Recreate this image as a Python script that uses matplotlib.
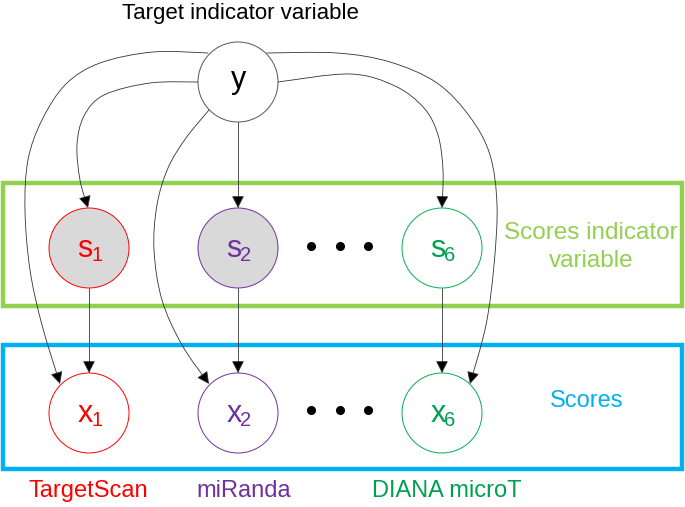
import matplotlib
matplotlib.use("Agg")
import numpy as np
import matplotlib.pyplot as plt
from matplotlib.patches import Ellipse, Rectangle, FancyArrowPatch
from matplotlib.path import Path

plt.rcParams['font.family'] = ['Liberation Sans', 'DejaVu Sans']

# ---- data ----
node_letters = ["y", "s", "s", "s", "x", "x", "x"]
node_subs = ["", "1", "2", "6", "1", "2", "6"]
node_x = [238, 89, 238, 442, 89, 238, 442]
node_y = [82, 248, 248, 248, 413, 413, 413]
node_edge = ["#555555", "#FF0000", "#7030A0", "#00B050", "#FF0000", "#7030A0", "#00B050"]
node_fill = ["white", "#D9D9D9", "#D9D9D9", "white", "white", "white", "white"]
node_text = ["black", "#FF0000", "#7030A0", "#00A050", "#FF0000", "#7030A0", "#00A050"]
node_w = 80
node_h = 80

source_names = ["TargetScan", "miRanda", "DIANA microT"]
source_colors = ["#FF0000", "#7030A0", "#00A050"]
source_x = [88, 244, 447]

# edges (start -> arrow tip)
edge_y_s2 = [(238, 122), (238, 208)]
edge_s1_x1 = [(89, 288), (89, 373)]
edge_s2_x2 = [(238, 288), (238, 373)]
edge_s6_x6 = [(442, 288), (442, 373)]
edge_y_s1 = [(198, 82), (150, 83), (104, 95), (84, 116), (77, 145), (80, 180), (88, 208)]
edge_y_s6 = [(278, 82), (350, 74), (395, 86), (424, 108), (438, 135), (443, 170), (442, 208)]
edge_y_x1 = [(208, 53), (153, 52), (100, 63), (66, 84), (42, 120), (28, 160),
             (25, 210), (30, 270), (42, 325), (60, 384)]
edge_y_x6 = [(267, 53), (337, 53), (390, 62), (437, 83), (470, 117), (490, 155),
             (497, 205), (494, 265), (486, 325), (470, 384)]
edge_y_x2 = [(209, 110), (186, 138), (168, 168), (157, 205), (154, 250),
             (162, 300), (182, 345), (209, 384)]

fig = plt.figure(figsize=(6.85, 5.07), dpi=100)
ax = fig.add_axes([0, 0, 1, 1])
ax.set_xlim(0, 685)
ax.set_ylim(507, 0)
ax.axis("off")

# boxes
ax.add_patch(Rectangle((3, 183), 679, 123, fill=False, edgecolor="#92D050", lw=3.2, zorder=1))
ax.add_patch(Rectangle((3, 345), 679, 124, fill=False, edgecolor="#00B0F0", lw=3.2, zorder=1))

# nodes
for nx, ny, ec, fc, tc, let, sub in zip(node_x, node_y, node_edge, node_fill, node_text,
                                        node_letters, node_subs):
    ax.add_patch(Ellipse((nx, ny), node_w, node_h, facecolor=fc, edgecolor=ec, lw=0.7, zorder=3))
    if sub:
        ax.text(nx - 4, ny + 9, let, color=tc, fontsize=22, ha="center", va="baseline", zorder=4)
        ax.text(nx + 8, ny + 13, sub, color=tc, fontsize=14.5, ha="center", va="baseline", zorder=4)
    else:
        ax.text(nx + 1, ny + 6, let, color=tc, fontsize=22, ha="center", va="baseline", zorder=4)

# dots
for row_y in [246, 410]:
    ax.plot([311, 340, 368], [row_y] * 3, "o", color="black", ms=5.5, zorder=4)


def smooth_path(pts):
    """Catmull-Rom through the given points, as cubic Bezier segments."""
    pts = np.asarray(pts, float)
    if len(pts) == 2:
        return Path(pts, [Path.MOVETO, Path.LINETO])
    verts = [pts[0]]
    codes = [Path.MOVETO]
    n = len(pts)
    for i in range(n - 1):
        p0 = pts[i - 1] if i > 0 else pts[i]
        p1 = pts[i]
        p2 = pts[i + 1]
        p3 = pts[i + 2] if i + 2 < n else pts[i + 1]
        c1 = p1 + (p2 - p0) / 6.0
        c2 = p2 - (p3 - p1) / 6.0
        verts += [c1, c2, p2]
        codes += [Path.CURVE4] * 3
    return Path(verts, codes)


for e in [edge_y_s2, edge_s1_x1, edge_s2_x2, edge_s6_x6, edge_y_s1, edge_y_s6,
          edge_y_x1, edge_y_x6, edge_y_x2]:
    a = FancyArrowPatch(path=smooth_path(e), arrowstyle="-|>,head_length=7.5,head_width=3.8",
                        color="#333333", lw=0.6, shrinkA=0, shrinkB=0, zorder=2)
    a.set_facecolor("black")
    ax.add_patch(a)

# texts
ax.text(240, 13, "Target indicator variable", fontsize=16, ha="center", va="center", color="black")
ax.text(591, 247, "Scores indicator\nvariable", fontsize=17.5, ha="center", va="center",
        color="#92D050", linespacing=1.3)
ax.text(587, 401, "Scores", fontsize=17, ha="center", va="center", color="#00B0F0")
for name, col, sx in zip(source_names, source_colors, source_x):
    ax.text(sx, 491, name, fontsize=17, ha="center", va="center", color=col)

fig.savefig("out.png", dpi=100)
